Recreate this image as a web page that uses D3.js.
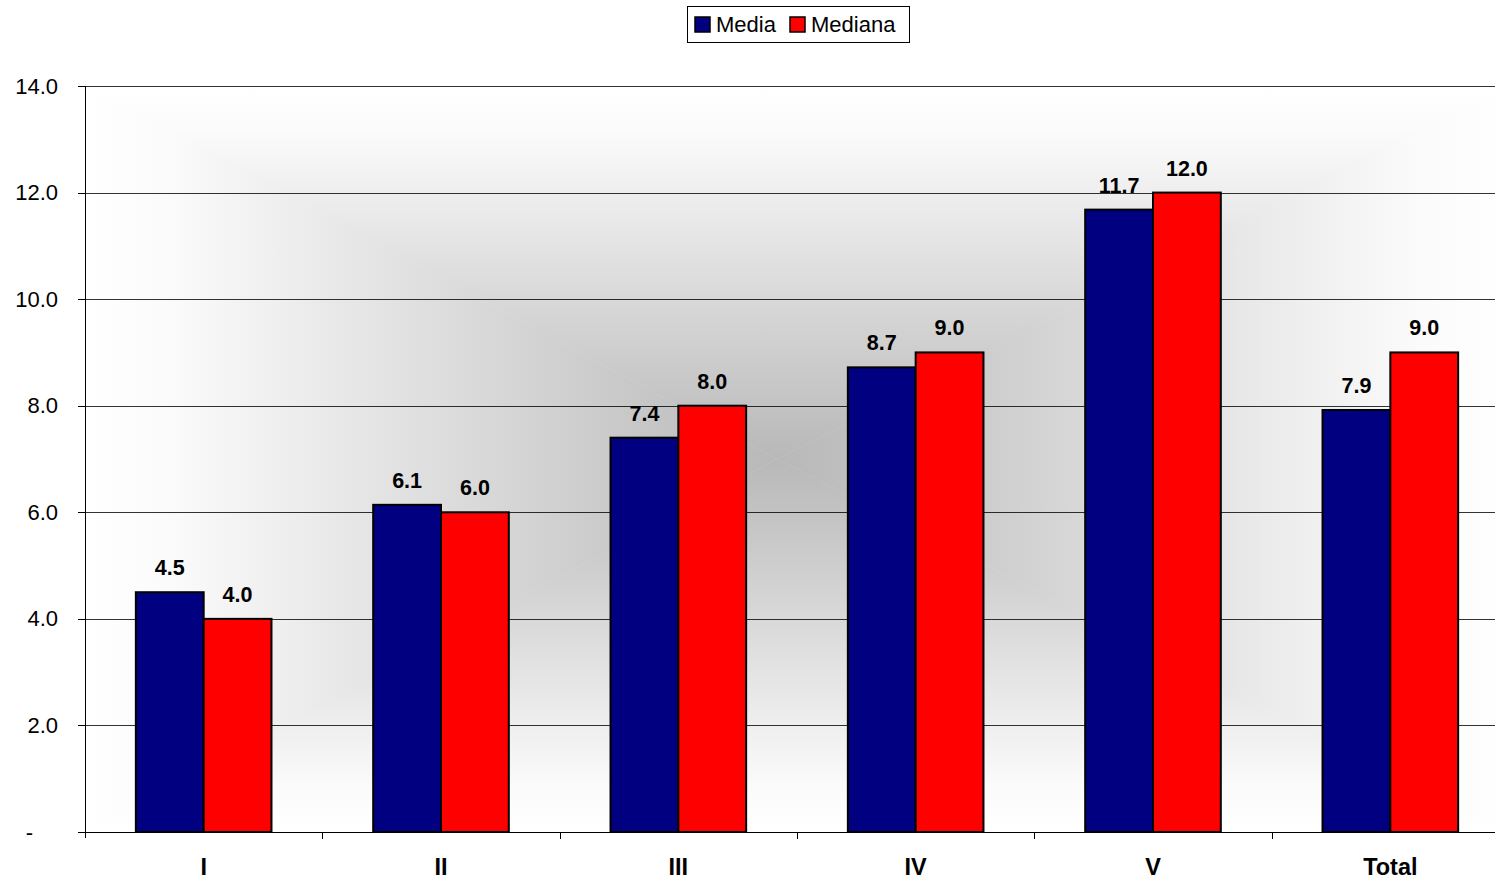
<!DOCTYPE html>
<html><head><meta charset="utf-8">
<script src="https://cdn.jsdelivr.net/npm/d3@7"></script>
<style>body{margin:0;background:#fff}svg{display:block}text{font-family:Arial,"Liberation Sans",sans-serif}</style>
</head><body><svg id="c" width="1495" height="880"></svg>
<script>
const categories = ["I","II","III","IV","V","Total"];
const seriesNames = ["Media","Mediana"];
const media = [4.5, 6.14, 7.4, 8.72, 11.68, 7.92];
const mediana = [4.0, 6.0, 8.0, 9.0, 12.0, 9.0];
const yTicks = [0,2,4,6,8,10,12,14];
const yTickLabels = ["-","2.0","4.0","6.0","8.0","10.0","12.0","14.0"];
const colors = ["#000080","#ff0000"];

const svg = d3.select("#c");
const X0 = 85, X1 = 1509, Y0 = 86, Y1 = 832;
const x = d3.scaleBand().domain(categories).range([X0, X1]);
const bw = x.bandwidth()/3.5;
const xs = d3.scaleBand().domain(seriesNames).range([0, 2*bw]);
const y = d3.scaleLinear().domain([0,14]).range([Y1, Y0]);

// background gradient (rectangular, from center)
const defs = svg.append("defs");
const cx = (X0+X1)/2 - 20, cy = (Y0+Y1)/2;
const stops = [[0,"#ffffff"],[0.12,"#fbfbfb"],[0.5,"#dedede"],[1,"#b8b8b8"]];
function grad(id,x1,y1,x2,y2){
  const g = defs.append("linearGradient").attr("id",id).attr("gradientUnits","userSpaceOnUse")
    .attr("x1",x1).attr("y1",y1).attr("x2",x2).attr("y2",y2);
  stops.forEach(s=>g.append("stop").attr("offset",s[0]).attr("stop-color",s[1]));
}
grad("gt",0,Y0,0,cy); grad("gb",0,Y1,0,cy); grad("gl",X0,0,cx,0); grad("gr",X1,0,cx,0);
const bg = svg.append("g");
bg.append("path").attr("d",`M${X0},${Y0}L${X1},${Y0}L${cx},${cy}Z`).attr("fill","url(#gt)").attr("stroke","url(#gt)").attr("stroke-width",0.5);
bg.append("path").attr("d",`M${X0},${Y1}L${X1},${Y1}L${cx},${cy}Z`).attr("fill","url(#gb)").attr("stroke","url(#gb)").attr("stroke-width",0.5);
bg.append("path").attr("d",`M${X0},${Y0}L${X0},${Y1}L${cx},${cy}Z`).attr("fill","url(#gl)").attr("stroke","url(#gl)").attr("stroke-width",0.5);
bg.append("path").attr("d",`M${X1},${Y0}L${X1},${Y1}L${cx},${cy}Z`).attr("fill","url(#gr)").attr("stroke","url(#gr)").attr("stroke-width",0.5);

// gridlines
svg.append("g").selectAll("line").data(yTicks.filter(d=>d>0)).join("line")
  .attr("x1",X0).attr("x2",X1).attr("y1",d=>Math.round(y(d))+0.5).attr("y2",d=>Math.round(y(d))+0.5)
  .attr("stroke","#000").attr("stroke-width",1).attr("stroke-opacity",0.8);

// bars
const data = categories.map((c,i)=>({c, vals:[{s:"Media",v:media[i]},{s:"Mediana",v:mediana[i]}]}));
const grp = svg.append("g").selectAll("g").data(data).join("g")
  .attr("transform",d=>`translate(${x(d.c)+(x.bandwidth()-2*bw)/2},0)`);
grp.selectAll("rect").data(d=>d.vals).join("rect")
  .attr("x",d=>xs(d.s)).attr("width",xs.bandwidth())
  .attr("y",d=>y(d.v)).attr("height",d=>y(0)-y(d.v))
  .attr("fill",(d,i)=>colors[i]).attr("stroke","#000").attr("stroke-width",2);
grp.selectAll("text").data(d=>d.vals).join("text")
  .attr("x",d=>xs(d.s)+xs.bandwidth()/2).attr("y",d=>y(d.v)-17)
  .attr("text-anchor","middle").attr("font-weight","bold").attr("font-size",21.5)
  .text(d=>d.v.toFixed(1));

// y axis
const ya = svg.append("g");
ya.append("line").attr("x1",X0+0.5).attr("x2",X0+0.5).attr("y1",Y0).attr("y2",Y1+6).attr("stroke","#000");
ya.selectAll("line.t").data(yTicks).join("line").attr("class","t")
  .attr("x1",X0-7).attr("x2",X0).attr("y1",d=>Math.round(y(d))+0.5).attr("y2",d=>Math.round(y(d))+0.5).attr("stroke","#000");
ya.selectAll("text").data(yTicks).join("text")
  .attr("x",(d,i)=>yTickLabels[i]==="-"?33:58).attr("y",d=>y(d)+7.5)
  .attr("text-anchor","end").attr("font-size",22).text((d,i)=>yTickLabels[i]);

// x axis
const xa = svg.append("g");
xa.append("line").attr("x1",X0).attr("x2",X1).attr("y1",Y1+0.5).attr("y2",Y1+0.5).attr("stroke","#000");
xa.selectAll("line.t").data(categories.slice(1)).join("line").attr("class","t")
  .attr("x1",d=>Math.round(x(d))+0.5).attr("x2",d=>Math.round(x(d))+0.5).attr("y1",Y1).attr("y2",Y1+7).attr("stroke","#000");
xa.selectAll("text").data(categories).join("text")
  .attr("x",d=>x(d)+x.bandwidth()/2).attr("y",875)
  .attr("text-anchor","middle").attr("font-weight","bold").attr("font-size",23.5).text(d=>d);

// legend
const lg = svg.append("g");
lg.append("rect").attr("x",687.5).attr("y",6.5).attr("width",222).attr("height",36).attr("fill","#fff").attr("stroke","#000");
const items = [{n:"Media",sx:695,tx:716},{n:"Mediana",sx:790,tx:811}];
items.forEach((it,i)=>{
  lg.append("rect").attr("x",it.sx).attr("y",17).attr("width",15).attr("height",15).attr("fill",colors[i]).attr("stroke","#000").attr("stroke-width",1.5);
  lg.append("text").attr("x",it.tx).attr("y",32).attr("font-size",22).text(it.n);
});
</script></body></html>
